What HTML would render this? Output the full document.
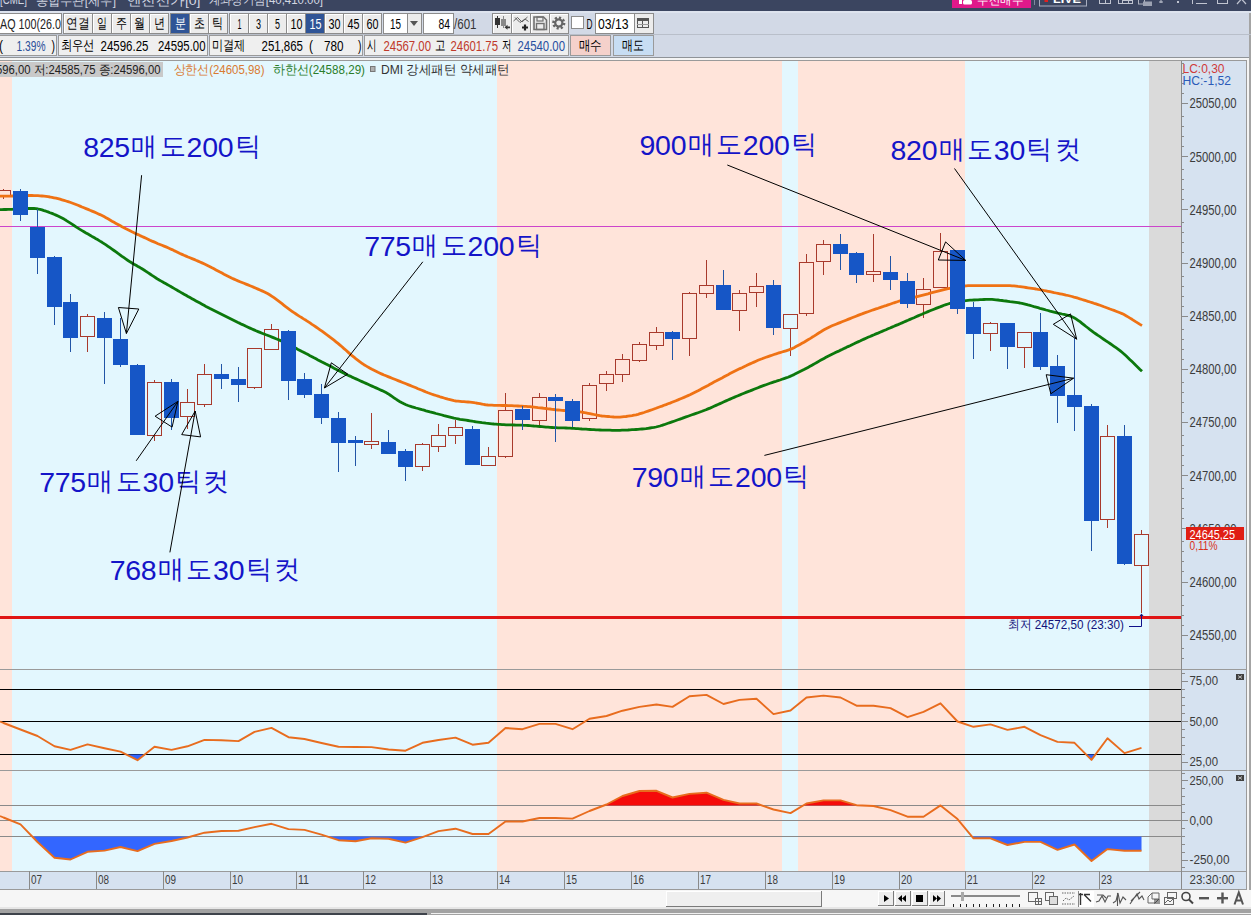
<!DOCTYPE html><html><head><meta charset="utf-8"><style>html,body{margin:0;padding:0;overflow:hidden;background:#fff} svg{display:block} text{font-family:'Liberation Sans', sans-serif}</style></head><body>
<svg width="1251" height="915" viewBox="0 0 1251 915">
<rect x="0" y="0" width="1251" height="915" fill="#d2d9e6"/>
<rect x="0" y="0" width="1251" height="11" fill="#3b4560"/>
<g shape-rendering="crispEdges">
<rect x="0" y="57" width="1249" height="1" fill="#8f9398"/>
<rect x="0" y="58" width="1249" height="2" fill="#f4f4f4"/>
<rect x="0" y="60" width="1247" height="1" fill="#9a9a9a"/>
<rect x="0" y="61" width="12" height="810" fill="#ffe4da"/>
<rect x="12" y="61" width="485" height="810" fill="#e3f7fe"/>
<rect x="497" y="61" width="285" height="810" fill="#ffe4da"/>
<rect x="782" y="61" width="16" height="810" fill="#e3f7fe"/>
<rect x="798" y="61" width="167" height="810" fill="#ffe4da"/>
<rect x="965" y="61" width="184" height="810" fill="#e3f7fe"/>
<rect x="1149" y="61" width="32" height="810" fill="#dadada"/>
<rect x="1182" y="61" width="64" height="828" fill="#d6e2f0"/>
<rect x="0" y="871" width="1182" height="18" fill="#d6e2f0"/>
<rect x="1246" y="60" width="1" height="830" fill="#9a9a9a"/>
<rect x="1247" y="58" width="2" height="832" fill="#f4f4f4"/>
<rect x="1249" y="11" width="2" height="904" fill="#a4a4a4"/>
<rect x="0" y="669" width="1246" height="1" fill="#9a9a9a"/>
<rect x="0" y="770" width="1246" height="1" fill="#9a9a9a"/>
<rect x="0" y="871" width="1246" height="1" fill="#9a9a9a"/>
<rect x="0" y="889" width="1246" height="1" fill="#9a9a9a"/>
<rect x="1181" y="61" width="1" height="828" fill="#8a8a8a"/>
<rect x="0" y="689" width="1181" height="1" fill="#000"/>
<rect x="0" y="721" width="1181" height="1" fill="#000"/>
<rect x="0" y="754" width="1181" height="1" fill="#000"/>
<rect x="0" y="805" width="1181" height="1" fill="#8a8a8a"/>
<rect x="0" y="820" width="1181" height="1" fill="#8a8a8a"/>
<rect x="0" y="836" width="1181" height="1" fill="#8a8a8a"/>
</g>
<rect x="0" y="226" width="1181" height="1" fill="#cc44cc" shape-rendering="crispEdges"/>
<g shape-rendering="crispEdges">
<rect x="3" y="189" width="1" height="1" fill="#a83a2c"/>
<rect x="3" y="195" width="1" height="4" fill="#a83a2c"/>
<rect x="-3.5" y="190.5" width="14" height="5" fill="none" stroke="#a83a2c" stroke-width="1"/>
<rect x="87" y="314" width="1" height="2" fill="#a83a2c"/>
<rect x="87" y="336" width="1" height="16" fill="#a83a2c"/>
<rect x="80.5" y="316.5" width="14" height="20" fill="none" stroke="#a83a2c" stroke-width="1"/>
<rect x="154" y="380" width="1" height="2" fill="#a83a2c"/>
<rect x="154" y="435" width="1" height="6" fill="#a83a2c"/>
<rect x="147.5" y="382.5" width="14" height="53" fill="none" stroke="#a83a2c" stroke-width="1"/>
<rect x="187" y="389" width="1" height="13" fill="#a83a2c"/>
<rect x="187" y="416" width="1" height="13" fill="#a83a2c"/>
<rect x="180.5" y="402.5" width="14" height="14" fill="none" stroke="#a83a2c" stroke-width="1"/>
<rect x="204" y="364" width="1" height="10" fill="#a83a2c"/>
<rect x="204" y="404" width="1" height="3" fill="#a83a2c"/>
<rect x="197.5" y="374.5" width="14" height="30" fill="none" stroke="#a83a2c" stroke-width="1"/>
<rect x="254" y="387" width="1" height="2" fill="#a83a2c"/>
<rect x="247.5" y="348.5" width="14" height="39" fill="none" stroke="#a83a2c" stroke-width="1"/>
<rect x="271" y="324" width="1" height="5" fill="#a83a2c"/>
<rect x="271" y="349" width="1" height="1" fill="#a83a2c"/>
<rect x="264.5" y="329.5" width="14" height="20" fill="none" stroke="#a83a2c" stroke-width="1"/>
<rect x="371" y="413" width="1" height="28" fill="#a83a2c"/>
<rect x="371" y="444" width="1" height="5" fill="#a83a2c"/>
<rect x="364.5" y="441.5" width="14" height="3" fill="none" stroke="#a83a2c" stroke-width="1"/>
<rect x="422" y="443" width="1" height="1" fill="#a83a2c"/>
<rect x="422" y="466" width="1" height="5" fill="#a83a2c"/>
<rect x="415.5" y="444.5" width="14" height="22" fill="none" stroke="#a83a2c" stroke-width="1"/>
<rect x="438" y="424" width="1" height="11" fill="#a83a2c"/>
<rect x="438" y="446" width="1" height="6" fill="#a83a2c"/>
<rect x="431.5" y="435.5" width="14" height="11" fill="none" stroke="#a83a2c" stroke-width="1"/>
<rect x="455" y="420" width="1" height="7" fill="#a83a2c"/>
<rect x="455" y="435" width="1" height="9" fill="#a83a2c"/>
<rect x="448.5" y="427.5" width="14" height="8" fill="none" stroke="#a83a2c" stroke-width="1"/>
<rect x="488" y="447" width="1" height="9" fill="#a83a2c"/>
<rect x="488" y="465" width="1" height="1" fill="#a83a2c"/>
<rect x="481.5" y="456.5" width="14" height="9" fill="none" stroke="#a83a2c" stroke-width="1"/>
<rect x="505" y="393" width="1" height="17" fill="#a83a2c"/>
<rect x="505" y="456" width="1" height="2" fill="#a83a2c"/>
<rect x="498.5" y="410.5" width="14" height="46" fill="none" stroke="#a83a2c" stroke-width="1"/>
<rect x="539" y="393" width="1" height="4" fill="#a83a2c"/>
<rect x="539" y="420" width="1" height="6" fill="#a83a2c"/>
<rect x="532.5" y="397.5" width="14" height="23" fill="none" stroke="#a83a2c" stroke-width="1"/>
<rect x="589" y="383" width="1" height="2" fill="#a83a2c"/>
<rect x="589" y="418" width="1" height="3" fill="#a83a2c"/>
<rect x="582.5" y="385.5" width="14" height="33" fill="none" stroke="#a83a2c" stroke-width="1"/>
<rect x="606" y="371" width="1" height="3" fill="#a83a2c"/>
<rect x="606" y="383" width="1" height="8" fill="#a83a2c"/>
<rect x="599.5" y="374.5" width="14" height="9" fill="none" stroke="#a83a2c" stroke-width="1"/>
<rect x="622" y="354" width="1" height="5" fill="#a83a2c"/>
<rect x="622" y="374" width="1" height="8" fill="#a83a2c"/>
<rect x="615.5" y="359.5" width="14" height="15" fill="none" stroke="#a83a2c" stroke-width="1"/>
<rect x="639" y="342" width="1" height="2" fill="#a83a2c"/>
<rect x="639" y="360" width="1" height="2" fill="#a83a2c"/>
<rect x="632.5" y="344.5" width="14" height="16" fill="none" stroke="#a83a2c" stroke-width="1"/>
<rect x="656" y="327" width="1" height="5" fill="#a83a2c"/>
<rect x="656" y="345" width="1" height="5" fill="#a83a2c"/>
<rect x="649.5" y="332.5" width="14" height="13" fill="none" stroke="#a83a2c" stroke-width="1"/>
<rect x="689" y="292" width="1" height="1" fill="#a83a2c"/>
<rect x="689" y="338" width="1" height="18" fill="#a83a2c"/>
<rect x="682.5" y="293.5" width="14" height="45" fill="none" stroke="#a83a2c" stroke-width="1"/>
<rect x="706" y="260" width="1" height="25" fill="#a83a2c"/>
<rect x="706" y="293" width="1" height="5" fill="#a83a2c"/>
<rect x="699.5" y="285.5" width="14" height="8" fill="none" stroke="#a83a2c" stroke-width="1"/>
<rect x="739" y="290" width="1" height="3" fill="#a83a2c"/>
<rect x="739" y="310" width="1" height="21" fill="#a83a2c"/>
<rect x="732.5" y="293.5" width="14" height="17" fill="none" stroke="#a83a2c" stroke-width="1"/>
<rect x="756" y="273" width="1" height="13" fill="#a83a2c"/>
<rect x="756" y="292" width="1" height="15" fill="#a83a2c"/>
<rect x="749.5" y="286.5" width="14" height="6" fill="none" stroke="#a83a2c" stroke-width="1"/>
<rect x="790" y="328" width="1" height="28" fill="#a83a2c"/>
<rect x="783.5" y="314.5" width="14" height="14" fill="none" stroke="#a83a2c" stroke-width="1"/>
<rect x="806" y="254" width="1" height="8" fill="#a83a2c"/>
<rect x="806" y="313" width="1" height="3" fill="#a83a2c"/>
<rect x="799.5" y="262.5" width="14" height="51" fill="none" stroke="#a83a2c" stroke-width="1"/>
<rect x="823" y="240" width="1" height="4" fill="#a83a2c"/>
<rect x="823" y="261" width="1" height="14" fill="#a83a2c"/>
<rect x="816.5" y="244.5" width="14" height="17" fill="none" stroke="#a83a2c" stroke-width="1"/>
<rect x="873" y="234" width="1" height="37" fill="#a83a2c"/>
<rect x="873" y="274" width="1" height="8" fill="#a83a2c"/>
<rect x="866.5" y="271.5" width="14" height="3" fill="none" stroke="#a83a2c" stroke-width="1"/>
<rect x="923" y="278" width="1" height="11" fill="#a83a2c"/>
<rect x="923" y="304" width="1" height="14" fill="#a83a2c"/>
<rect x="916.5" y="289.5" width="14" height="15" fill="none" stroke="#a83a2c" stroke-width="1"/>
<rect x="940" y="233" width="1" height="18" fill="#a83a2c"/>
<rect x="933.5" y="251.5" width="14" height="36" fill="none" stroke="#a83a2c" stroke-width="1"/>
<rect x="990" y="322" width="1" height="1" fill="#a83a2c"/>
<rect x="990" y="333" width="1" height="18" fill="#a83a2c"/>
<rect x="983.5" y="323.5" width="14" height="10" fill="none" stroke="#a83a2c" stroke-width="1"/>
<rect x="1024" y="347" width="1" height="21" fill="#a83a2c"/>
<rect x="1017.5" y="332.5" width="14" height="15" fill="none" stroke="#a83a2c" stroke-width="1"/>
<rect x="1107" y="425" width="1" height="11" fill="#a83a2c"/>
<rect x="1107" y="519" width="1" height="9" fill="#a83a2c"/>
<rect x="1100.5" y="436.5" width="14" height="83" fill="none" stroke="#a83a2c" stroke-width="1"/>
<rect x="1141" y="530" width="1" height="4" fill="#a83a2c"/>
<rect x="1141" y="565" width="1" height="48" fill="#a83a2c"/>
<rect x="1134.5" y="534.5" width="14" height="31" fill="none" stroke="#a83a2c" stroke-width="1"/>
</g>
<polyline points="0.0,196.1 2.0,196.1 4.0,196.1 6.0,196.1 8.0,196.1 10.0,196.1 12.0,196.0 14.0,196.0 16.0,195.9 18.0,195.9 20.0,195.8 22.0,195.7 24.0,195.7 26.0,195.6 28.0,195.5 30.0,195.5 32.0,195.5 34.0,195.6 36.0,195.6 38.0,195.7 40.0,195.8 42.0,196.0 44.0,196.2 46.0,196.4 48.0,196.7 50.0,197.0 52.0,197.4 54.0,197.8 56.0,198.2 58.0,198.7 60.0,199.2 62.0,199.8 64.0,200.4 66.0,201.0 68.0,201.6 70.0,202.3 72.0,203.0 74.0,203.7 76.0,204.5 78.0,205.3 80.0,206.1 82.0,207.0 84.0,207.8 86.0,208.6 88.0,209.4 90.0,210.3 92.0,211.1 94.0,211.9 96.0,212.8 98.0,213.7 100.0,214.6 102.0,215.6 104.0,216.6 106.0,217.7 108.0,218.8 110.0,220.0 112.0,221.2 114.0,222.3 116.0,223.4 118.0,224.5 120.0,225.6 122.0,226.7 124.0,227.7 126.0,228.8 128.0,229.8 130.0,230.8 132.0,231.8 134.0,232.7 136.0,233.7 138.0,234.6 140.0,235.6 142.0,236.5 144.0,237.4 146.0,238.3 148.0,239.2 150.0,240.2 152.0,241.1 154.0,241.9 156.0,242.8 158.0,243.7 160.0,244.5 162.0,245.3 164.0,246.1 166.0,246.9 168.0,247.8 170.0,248.7 172.0,249.6 174.0,250.6 176.0,251.5 178.0,252.5 180.0,253.5 182.0,254.4 184.0,255.3 186.0,256.1 188.0,257.0 190.0,257.8 192.0,258.6 194.0,259.4 196.0,260.3 198.0,261.1 200.0,262.0 202.0,262.9 204.0,263.8 206.0,264.7 208.0,265.7 210.0,266.7 212.0,267.8 214.0,268.8 216.0,269.9 218.0,271.0 220.0,272.1 222.0,273.1 224.0,274.2 226.0,275.2 228.0,276.2 230.0,277.2 232.0,278.2 234.0,279.1 236.0,280.0 238.0,280.9 240.0,281.7 242.0,282.5 244.0,283.3 246.0,284.1 248.0,284.9 250.0,285.7 252.0,286.5 254.0,287.4 256.0,288.2 258.0,289.1 260.0,290.0 262.0,290.9 264.0,291.8 266.0,292.8 268.0,293.8 270.0,295.0 272.0,296.3 274.0,297.7 276.0,299.2 278.0,300.7 280.0,302.2 282.0,303.7 284.0,305.3 286.0,306.9 288.0,308.4 290.0,309.9 292.0,311.3 294.0,312.7 296.0,314.0 298.0,315.3 300.0,316.6 302.0,317.8 304.0,319.1 306.0,320.3 308.0,321.6 310.0,322.9 312.0,324.3 314.0,325.6 316.0,327.0 318.0,328.4 320.0,329.8 322.0,331.2 324.0,332.7 326.0,334.2 328.0,335.6 330.0,337.2 332.0,338.7 334.0,340.2 336.0,341.8 338.0,343.4 340.0,345.1 342.0,346.8 344.0,348.6 346.0,350.3 348.0,352.1 350.0,353.9 352.0,355.6 354.0,357.2 356.0,358.8 358.0,360.3 360.0,361.9 362.0,363.3 364.0,364.7 366.0,365.9 368.0,367.1 370.0,368.2 372.0,369.3 374.0,370.3 376.0,371.3 378.0,372.3 380.0,373.2 382.0,374.1 384.0,375.0 386.0,375.8 388.0,376.6 390.0,377.4 392.0,378.2 394.0,379.0 396.0,379.8 398.0,380.6 400.0,381.4 402.0,382.2 404.0,383.0 406.0,383.8 408.0,384.6 410.0,385.4 412.0,386.2 414.0,387.0 416.0,387.8 418.0,388.7 420.0,389.5 422.0,390.3 424.0,391.1 426.0,392.0 428.0,392.8 430.0,393.5 432.0,394.2 434.0,394.9 436.0,395.5 438.0,396.1 440.0,396.8 442.0,397.4 444.0,398.0 446.0,398.6 448.0,399.2 450.0,399.7 452.0,400.2 454.0,400.7 456.0,401.0 458.0,401.2 460.0,401.4 462.0,401.6 464.0,401.7 466.0,401.9 468.0,402.0 470.0,402.2 472.0,402.4 474.0,402.6 476.0,403.0 478.0,403.3 480.0,403.7 482.0,404.1 484.0,404.5 486.0,404.8 488.0,405.0 490.0,405.1 492.0,405.2 494.0,405.3 496.0,405.3 498.0,405.4 500.0,405.4 502.0,405.5 504.0,405.5 506.0,405.5 508.0,405.6 510.0,405.6 512.0,405.7 514.0,405.8 516.0,405.9 518.0,406.0 520.0,406.1 522.0,406.2 524.0,406.3 526.0,406.4 528.0,406.6 530.0,406.7 532.0,406.9 534.0,407.1 536.0,407.3 538.0,407.6 540.0,407.8 542.0,408.0 544.0,408.3 546.0,408.5 548.0,408.8 550.0,409.0 552.0,409.3 554.0,409.5 556.0,409.8 558.0,410.0 560.0,410.2 562.0,410.4 564.0,410.5 566.0,410.7 568.0,410.8 570.0,410.9 572.0,411.1 574.0,411.2 576.0,411.4 578.0,411.6 580.0,411.8 582.0,412.2 584.0,412.5 586.0,412.9 588.0,413.3 590.0,413.7 592.0,414.1 594.0,414.5 596.0,414.9 598.0,415.3 600.0,415.7 602.0,416.0 604.0,416.2 606.0,416.4 608.0,416.5 610.0,416.7 612.0,416.8 614.0,417.0 616.0,417.1 618.0,417.1 620.0,417.1 622.0,416.9 624.0,416.7 626.0,416.5 628.0,416.2 630.0,415.9 632.0,415.6 634.0,415.2 636.0,414.8 638.0,414.3 640.0,413.7 642.0,413.1 644.0,412.5 646.0,411.8 648.0,411.1 650.0,410.4 652.0,409.7 654.0,409.0 656.0,408.3 658.0,407.5 660.0,406.8 662.0,406.1 664.0,405.3 666.0,404.6 668.0,403.8 670.0,403.1 672.0,402.3 674.0,401.5 676.0,400.7 678.0,399.9 680.0,399.0 682.0,398.2 684.0,397.4 686.0,396.5 688.0,395.6 690.0,394.8 692.0,393.8 694.0,392.8 696.0,391.8 698.0,390.8 700.0,389.7 702.0,388.6 704.0,387.5 706.0,386.4 708.0,385.4 710.0,384.3 712.0,383.2 714.0,382.1 716.0,381.1 718.0,380.0 720.0,378.9 722.0,377.9 724.0,376.8 726.0,375.7 728.0,374.7 730.0,373.6 732.0,372.6 734.0,371.6 736.0,370.6 738.0,369.6 740.0,368.6 742.0,367.7 744.0,366.7 746.0,365.8 748.0,364.8 750.0,363.9 752.0,363.0 754.0,362.1 756.0,361.2 758.0,360.3 760.0,359.5 762.0,358.8 764.0,358.0 766.0,357.3 768.0,356.6 770.0,355.9 772.0,355.2 774.0,354.5 776.0,353.9 778.0,353.2 780.0,352.6 782.0,352.0 784.0,351.4 786.0,350.8 788.0,350.2 790.0,349.4 792.0,348.6 794.0,347.7 796.0,346.6 798.0,345.5 800.0,344.4 802.0,343.3 804.0,342.2 806.0,341.0 808.0,339.8 810.0,338.6 812.0,337.3 814.0,336.1 816.0,334.8 818.0,333.5 820.0,332.3 822.0,331.0 824.0,329.8 826.0,328.7 828.0,327.7 830.0,326.7 832.0,325.8 834.0,325.0 836.0,324.2 838.0,323.4 840.0,322.6 842.0,321.8 844.0,321.0 846.0,320.2 848.0,319.4 850.0,318.6 852.0,317.8 854.0,317.0 856.0,316.2 858.0,315.4 860.0,314.6 862.0,313.9 864.0,313.1 866.0,312.4 868.0,311.7 870.0,311.0 872.0,310.3 874.0,309.6 876.0,308.9 878.0,308.3 880.0,307.6 882.0,306.9 884.0,306.2 886.0,305.6 888.0,304.9 890.0,304.2 892.0,303.5 894.0,302.8 896.0,302.2 898.0,301.5 900.0,300.9 902.0,300.3 904.0,299.8 906.0,299.2 908.0,298.7 910.0,298.2 912.0,297.7 914.0,297.3 916.0,296.8 918.0,296.3 920.0,295.8 922.0,295.3 924.0,294.8 926.0,294.3 928.0,293.8 930.0,293.2 932.0,292.7 934.0,292.2 936.0,291.7 938.0,291.2 940.0,290.7 942.0,290.2 944.0,289.7 946.0,289.2 948.0,288.7 950.0,288.3 952.0,287.9 954.0,287.5 956.0,287.2 958.0,286.8 960.0,286.5 962.0,286.2 964.0,286.0 966.0,285.8 968.0,285.7 970.0,285.6 972.0,285.6 974.0,285.6 976.0,285.6 978.0,285.6 980.0,285.6 982.0,285.6 984.0,285.6 986.0,285.6 988.0,285.6 990.0,285.6 992.0,285.6 994.0,285.6 996.0,285.6 998.0,285.6 1000.0,285.6 1002.0,285.6 1004.0,285.6 1006.0,285.6 1008.0,285.6 1010.0,285.7 1012.0,285.8 1014.0,285.9 1016.0,286.1 1018.0,286.4 1020.0,286.6 1022.0,286.9 1024.0,287.2 1026.0,287.5 1028.0,287.8 1030.0,288.1 1032.0,288.4 1034.0,288.7 1036.0,289.0 1038.0,289.4 1040.0,289.7 1042.0,290.1 1044.0,290.5 1046.0,290.9 1048.0,291.3 1050.0,291.7 1052.0,292.1 1054.0,292.6 1056.0,293.0 1058.0,293.4 1060.0,293.8 1062.0,294.2 1064.0,294.6 1066.0,295.1 1068.0,295.5 1070.0,296.0 1072.0,296.5 1074.0,297.1 1076.0,297.6 1078.0,298.2 1080.0,298.9 1082.0,299.5 1084.0,300.1 1086.0,300.7 1088.0,301.4 1090.0,302.0 1092.0,302.6 1094.0,303.3 1096.0,303.9 1098.0,304.6 1100.0,305.3 1102.0,306.0 1104.0,306.8 1106.0,307.5 1108.0,308.2 1110.0,309.0 1112.0,309.7 1114.0,310.4 1116.0,311.2 1118.0,312.0 1120.0,312.8 1122.0,313.6 1124.0,314.6 1126.0,315.7 1128.0,316.9 1130.0,318.1 1132.0,319.3 1134.0,320.6 1136.0,321.9 1138.0,323.1 1140.0,324.4 1142.0,325.6" fill="none" stroke="#ef7214" stroke-width="2.8" stroke-linejoin="round"/>
<polyline points="0.0,209.6 2.0,209.6 4.0,209.5 6.0,209.5 8.0,209.4 10.0,209.4 12.0,209.3 14.0,209.2 16.0,209.1 18.0,209.0 20.0,208.9 22.0,208.8 24.0,208.7 26.0,208.6 28.0,208.5 30.0,208.5 32.0,208.5 34.0,208.5 36.0,208.7 38.0,209.0 40.0,209.4 42.0,209.9 44.0,210.6 46.0,211.2 48.0,211.9 50.0,212.7 52.0,213.4 54.0,214.3 56.0,215.1 58.0,216.0 60.0,217.0 62.0,218.0 64.0,219.1 66.0,220.3 68.0,221.6 70.0,222.9 72.0,224.2 74.0,225.5 76.0,226.8 78.0,228.1 80.0,229.4 82.0,230.6 84.0,231.8 86.0,233.0 88.0,234.1 90.0,235.2 92.0,236.4 94.0,237.5 96.0,238.7 98.0,239.8 100.0,241.1 102.0,242.3 104.0,243.6 106.0,244.9 108.0,246.3 110.0,247.7 112.0,249.1 114.0,250.5 116.0,251.9 118.0,253.4 120.0,254.8 122.0,256.3 124.0,257.7 126.0,259.1 128.0,260.5 130.0,261.8 132.0,263.0 134.0,264.2 136.0,265.3 138.0,266.5 140.0,267.6 142.0,268.8 144.0,270.0 146.0,271.3 148.0,272.7 150.0,274.0 152.0,275.4 154.0,276.7 156.0,278.0 158.0,279.3 160.0,280.4 162.0,281.6 164.0,282.7 166.0,283.8 168.0,284.9 170.0,286.1 172.0,287.2 174.0,288.4 176.0,289.6 178.0,290.7 180.0,291.9 182.0,293.1 184.0,294.2 186.0,295.3 188.0,296.5 190.0,297.6 192.0,298.7 194.0,299.8 196.0,300.9 198.0,302.0 200.0,303.1 202.0,304.2 204.0,305.3 206.0,306.4 208.0,307.4 210.0,308.5 212.0,309.5 214.0,310.5 216.0,311.5 218.0,312.5 220.0,313.5 222.0,314.5 224.0,315.5 226.0,316.5 228.0,317.5 230.0,318.5 232.0,319.5 234.0,320.5 236.0,321.5 238.0,322.5 240.0,323.4 242.0,324.4 244.0,325.3 246.0,326.3 248.0,327.2 250.0,328.1 252.0,329.0 254.0,329.9 256.0,330.8 258.0,331.6 260.0,332.4 262.0,333.2 264.0,334.0 266.0,334.8 268.0,335.5 270.0,336.3 272.0,337.1 274.0,337.9 276.0,338.7 278.0,339.5 280.0,340.4 282.0,341.3 284.0,342.3 286.0,343.3 288.0,344.3 290.0,345.3 292.0,346.3 294.0,347.3 296.0,348.3 298.0,349.4 300.0,350.4 302.0,351.5 304.0,352.5 306.0,353.6 308.0,354.6 310.0,355.7 312.0,356.7 314.0,357.8 316.0,358.8 318.0,359.9 320.0,360.9 322.0,362.0 324.0,363.0 326.0,364.1 328.0,365.1 330.0,366.1 332.0,367.1 334.0,368.2 336.0,369.2 338.0,370.2 340.0,371.2 342.0,372.2 344.0,373.2 346.0,374.2 348.0,375.2 350.0,376.1 352.0,377.1 354.0,378.0 356.0,378.9 358.0,379.8 360.0,380.7 362.0,381.6 364.0,382.5 366.0,383.4 368.0,384.3 370.0,385.2 372.0,386.1 374.0,387.0 376.0,387.9 378.0,388.8 380.0,389.7 382.0,390.6 384.0,391.6 386.0,392.6 388.0,393.7 390.0,395.0 392.0,396.4 394.0,397.8 396.0,399.2 398.0,400.5 400.0,401.7 402.0,402.8 404.0,403.8 406.0,404.7 408.0,405.5 410.0,406.2 412.0,406.8 414.0,407.4 416.0,408.0 418.0,408.5 420.0,409.1 422.0,409.7 424.0,410.2 426.0,410.8 428.0,411.3 430.0,411.9 432.0,412.4 434.0,412.9 436.0,413.5 438.0,414.0 440.0,414.5 442.0,415.0 444.0,415.6 446.0,416.1 448.0,416.6 450.0,417.1 452.0,417.6 454.0,418.1 456.0,418.5 458.0,418.9 460.0,419.3 462.0,419.6 464.0,419.9 466.0,420.2 468.0,420.5 470.0,420.8 472.0,421.1 474.0,421.5 476.0,421.8 478.0,422.1 480.0,422.4 482.0,422.7 484.0,422.9 486.0,423.2 488.0,423.4 490.0,423.6 492.0,423.8 494.0,424.0 496.0,424.1 498.0,424.3 500.0,424.4 502.0,424.6 504.0,424.7 506.0,424.8 508.0,424.8 510.0,424.9 512.0,424.9 514.0,425.0 516.0,425.1 518.0,425.1 520.0,425.2 522.0,425.2 524.0,425.3 526.0,425.4 528.0,425.5 530.0,425.6 532.0,425.8 534.0,426.0 536.0,426.1 538.0,426.3 540.0,426.5 542.0,426.7 544.0,426.9 546.0,427.1 548.0,427.2 550.0,427.4 552.0,427.5 554.0,427.6 556.0,427.7 558.0,427.8 560.0,427.9 562.0,427.9 564.0,427.9 566.0,428.0 568.0,428.1 570.0,428.2 572.0,428.3 574.0,428.4 576.0,428.6 578.0,428.7 580.0,428.8 582.0,429.0 584.0,429.1 586.0,429.2 588.0,429.4 590.0,429.5 592.0,429.6 594.0,429.7 596.0,429.8 598.0,429.9 600.0,430.0 602.0,430.1 604.0,430.1 606.0,430.1 608.0,430.2 610.0,430.2 612.0,430.3 614.0,430.3 616.0,430.3 618.0,430.3 620.0,430.3 622.0,430.2 624.0,430.2 626.0,430.1 628.0,430.0 630.0,429.8 632.0,429.7 634.0,429.6 636.0,429.5 638.0,429.4 640.0,429.2 642.0,429.0 644.0,428.8 646.0,428.6 648.0,428.3 650.0,428.0 652.0,427.7 654.0,427.4 656.0,427.0 658.0,426.5 660.0,426.0 662.0,425.3 664.0,424.7 666.0,424.0 668.0,423.3 670.0,422.6 672.0,421.9 674.0,421.2 676.0,420.5 678.0,419.8 680.0,419.1 682.0,418.4 684.0,417.6 686.0,416.9 688.0,416.2 690.0,415.5 692.0,414.8 694.0,414.1 696.0,413.4 698.0,412.7 700.0,412.0 702.0,411.3 704.0,410.5 706.0,409.8 708.0,408.9 710.0,408.1 712.0,407.2 714.0,406.3 716.0,405.4 718.0,404.5 720.0,403.6 722.0,402.7 724.0,401.8 726.0,400.9 728.0,400.0 730.0,399.1 732.0,398.2 734.0,397.4 736.0,396.5 738.0,395.7 740.0,394.9 742.0,394.0 744.0,393.2 746.0,392.4 748.0,391.6 750.0,390.9 752.0,390.1 754.0,389.3 756.0,388.5 758.0,387.7 760.0,386.9 762.0,386.1 764.0,385.4 766.0,384.7 768.0,384.0 770.0,383.3 772.0,382.6 774.0,381.9 776.0,381.3 778.0,380.6 780.0,380.0 782.0,379.3 784.0,378.6 786.0,377.9 788.0,377.2 790.0,376.4 792.0,375.5 794.0,374.6 796.0,373.6 798.0,372.6 800.0,371.6 802.0,370.6 804.0,369.6 806.0,368.5 808.0,367.4 810.0,366.3 812.0,365.2 814.0,364.1 816.0,362.9 818.0,361.8 820.0,360.6 822.0,359.5 824.0,358.4 826.0,357.3 828.0,356.2 830.0,355.2 832.0,354.2 834.0,353.3 836.0,352.3 838.0,351.4 840.0,350.4 842.0,349.5 844.0,348.5 846.0,347.6 848.0,346.6 850.0,345.7 852.0,344.7 854.0,343.8 856.0,342.8 858.0,341.9 860.0,341.0 862.0,340.0 864.0,339.1 866.0,338.2 868.0,337.3 870.0,336.5 872.0,335.6 874.0,334.8 876.0,333.9 878.0,333.1 880.0,332.2 882.0,331.4 884.0,330.5 886.0,329.7 888.0,328.8 890.0,328.0 892.0,327.1 894.0,326.3 896.0,325.4 898.0,324.6 900.0,323.7 902.0,322.9 904.0,322.0 906.0,321.1 908.0,320.3 910.0,319.4 912.0,318.5 914.0,317.7 916.0,316.8 918.0,315.9 920.0,315.0 922.0,314.2 924.0,313.3 926.0,312.5 928.0,311.6 930.0,310.8 932.0,310.0 934.0,309.2 936.0,308.4 938.0,307.6 940.0,306.9 942.0,306.1 944.0,305.3 946.0,304.6 948.0,304.0 950.0,303.4 952.0,302.9 954.0,302.4 956.0,302.1 958.0,301.7 960.0,301.4 962.0,301.1 964.0,300.8 966.0,300.6 968.0,300.4 970.0,300.2 972.0,300.1 974.0,300.0 976.0,299.9 978.0,299.8 980.0,299.7 982.0,299.6 984.0,299.5 986.0,299.4 988.0,299.4 990.0,299.4 992.0,299.4 994.0,299.6 996.0,299.8 998.0,300.0 1000.0,300.3 1002.0,300.5 1004.0,300.8 1006.0,301.0 1008.0,301.3 1010.0,301.6 1012.0,301.8 1014.0,302.1 1016.0,302.4 1018.0,302.7 1020.0,303.0 1022.0,303.4 1024.0,303.8 1026.0,304.3 1028.0,304.9 1030.0,305.4 1032.0,306.0 1034.0,306.6 1036.0,307.1 1038.0,307.7 1040.0,308.3 1042.0,308.8 1044.0,309.4 1046.0,310.0 1048.0,310.5 1050.0,311.1 1052.0,311.6 1054.0,312.1 1056.0,312.6 1058.0,313.1 1060.0,313.5 1062.0,314.0 1064.0,314.4 1066.0,314.9 1068.0,315.4 1070.0,316.0 1072.0,316.8 1074.0,317.7 1076.0,318.9 1078.0,320.3 1080.0,321.7 1082.0,323.3 1084.0,324.9 1086.0,326.5 1088.0,328.0 1090.0,329.6 1092.0,331.1 1094.0,332.6 1096.0,334.0 1098.0,335.4 1100.0,336.7 1102.0,338.1 1104.0,339.5 1106.0,340.8 1108.0,342.2 1110.0,343.5 1112.0,344.9 1114.0,346.3 1116.0,347.7 1118.0,349.1 1120.0,350.6 1122.0,352.3 1124.0,354.0 1126.0,355.8 1128.0,357.7 1130.0,359.7 1132.0,361.6 1134.0,363.5 1136.0,365.5 1138.0,367.4 1140.0,369.4 1142.0,371.3" fill="none" stroke="#0c780c" stroke-width="2.8" stroke-linejoin="round"/>
<g shape-rendering="crispEdges">
<rect x="20" y="189" width="1" height="2" fill="#2255a6"/>
<rect x="20" y="215" width="1" height="6" fill="#2255a6"/>
<rect x="13" y="191" width="15" height="24" fill="#1656c6"/>
<rect x="37" y="209" width="1" height="18" fill="#2255a6"/>
<rect x="37" y="258" width="1" height="16" fill="#2255a6"/>
<rect x="30" y="227" width="15" height="31" fill="#1656c6"/>
<rect x="54" y="256" width="1" height="1" fill="#2255a6"/>
<rect x="54" y="307" width="1" height="18" fill="#2255a6"/>
<rect x="47" y="257" width="15" height="50" fill="#1656c6"/>
<rect x="70" y="294" width="1" height="8" fill="#2255a6"/>
<rect x="70" y="338" width="1" height="14" fill="#2255a6"/>
<rect x="63" y="302" width="15" height="36" fill="#1656c6"/>
<rect x="104" y="312" width="1" height="6" fill="#2255a6"/>
<rect x="104" y="338" width="1" height="46" fill="#2255a6"/>
<rect x="97" y="318" width="15" height="20" fill="#1656c6"/>
<rect x="120" y="318" width="1" height="21" fill="#2255a6"/>
<rect x="120" y="365" width="1" height="2" fill="#2255a6"/>
<rect x="113" y="339" width="15" height="26" fill="#1656c6"/>
<rect x="137" y="364" width="1" height="1" fill="#2255a6"/>
<rect x="130" y="365" width="15" height="70" fill="#1656c6"/>
<rect x="171" y="379" width="1" height="3" fill="#2255a6"/>
<rect x="171" y="418" width="1" height="12" fill="#2255a6"/>
<rect x="164" y="382" width="15" height="36" fill="#1656c6"/>
<rect x="221" y="364" width="1" height="10" fill="#2255a6"/>
<rect x="221" y="379" width="1" height="10" fill="#2255a6"/>
<rect x="214" y="374" width="15" height="5" fill="#1656c6"/>
<rect x="238" y="367" width="1" height="12" fill="#2255a6"/>
<rect x="238" y="385" width="1" height="17" fill="#2255a6"/>
<rect x="231" y="379" width="15" height="6" fill="#1656c6"/>
<rect x="288" y="330" width="1" height="1" fill="#2255a6"/>
<rect x="288" y="381" width="1" height="19" fill="#2255a6"/>
<rect x="281" y="331" width="15" height="50" fill="#1656c6"/>
<rect x="304" y="373" width="1" height="6" fill="#2255a6"/>
<rect x="304" y="395" width="1" height="3" fill="#2255a6"/>
<rect x="297" y="379" width="15" height="16" fill="#1656c6"/>
<rect x="321" y="384" width="1" height="10" fill="#2255a6"/>
<rect x="321" y="418" width="1" height="6" fill="#2255a6"/>
<rect x="314" y="394" width="15" height="24" fill="#1656c6"/>
<rect x="338" y="412" width="1" height="6" fill="#2255a6"/>
<rect x="338" y="443" width="1" height="29" fill="#2255a6"/>
<rect x="331" y="418" width="15" height="25" fill="#1656c6"/>
<rect x="355" y="436" width="1" height="4" fill="#2255a6"/>
<rect x="355" y="443" width="1" height="23" fill="#2255a6"/>
<rect x="348" y="440" width="15" height="3" fill="#1656c6"/>
<rect x="388" y="430" width="1" height="12" fill="#2255a6"/>
<rect x="381" y="442" width="15" height="12" fill="#1656c6"/>
<rect x="405" y="449" width="1" height="2" fill="#2255a6"/>
<rect x="405" y="467" width="1" height="14" fill="#2255a6"/>
<rect x="398" y="451" width="15" height="16" fill="#1656c6"/>
<rect x="472" y="426" width="1" height="3" fill="#2255a6"/>
<rect x="465" y="429" width="15" height="36" fill="#1656c6"/>
<rect x="522" y="406" width="1" height="3" fill="#2255a6"/>
<rect x="522" y="420" width="1" height="10" fill="#2255a6"/>
<rect x="515" y="409" width="15" height="11" fill="#1656c6"/>
<rect x="555" y="394" width="1" height="3" fill="#2255a6"/>
<rect x="555" y="401" width="1" height="41" fill="#2255a6"/>
<rect x="548" y="397" width="15" height="4" fill="#1656c6"/>
<rect x="572" y="399" width="1" height="2" fill="#2255a6"/>
<rect x="572" y="421" width="1" height="6" fill="#2255a6"/>
<rect x="565" y="401" width="15" height="20" fill="#1656c6"/>
<rect x="672" y="331" width="1" height="1" fill="#2255a6"/>
<rect x="672" y="339" width="1" height="21" fill="#2255a6"/>
<rect x="665" y="332" width="15" height="7" fill="#1656c6"/>
<rect x="723" y="270" width="1" height="15" fill="#2255a6"/>
<rect x="716" y="285" width="15" height="25" fill="#1656c6"/>
<rect x="773" y="280" width="1" height="5" fill="#2255a6"/>
<rect x="773" y="328" width="1" height="7" fill="#2255a6"/>
<rect x="766" y="285" width="15" height="43" fill="#1656c6"/>
<rect x="840" y="234" width="1" height="10" fill="#2255a6"/>
<rect x="840" y="254" width="1" height="16" fill="#2255a6"/>
<rect x="833" y="244" width="15" height="10" fill="#1656c6"/>
<rect x="856" y="252" width="1" height="1" fill="#2255a6"/>
<rect x="856" y="275" width="1" height="8" fill="#2255a6"/>
<rect x="849" y="253" width="15" height="22" fill="#1656c6"/>
<rect x="890" y="256" width="1" height="16" fill="#2255a6"/>
<rect x="890" y="280" width="1" height="10" fill="#2255a6"/>
<rect x="883" y="272" width="15" height="8" fill="#1656c6"/>
<rect x="907" y="273" width="1" height="8" fill="#2255a6"/>
<rect x="907" y="304" width="1" height="4" fill="#2255a6"/>
<rect x="900" y="281" width="15" height="23" fill="#1656c6"/>
<rect x="957" y="309" width="1" height="5" fill="#2255a6"/>
<rect x="950" y="250" width="15" height="59" fill="#1656c6"/>
<rect x="973" y="302" width="1" height="5" fill="#2255a6"/>
<rect x="973" y="334" width="1" height="25" fill="#2255a6"/>
<rect x="966" y="307" width="15" height="27" fill="#1656c6"/>
<rect x="1007" y="347" width="1" height="22" fill="#2255a6"/>
<rect x="1000" y="323" width="15" height="24" fill="#1656c6"/>
<rect x="1040" y="313" width="1" height="19" fill="#2255a6"/>
<rect x="1040" y="367" width="1" height="3" fill="#2255a6"/>
<rect x="1033" y="332" width="15" height="35" fill="#1656c6"/>
<rect x="1057" y="355" width="1" height="11" fill="#2255a6"/>
<rect x="1057" y="396" width="1" height="27" fill="#2255a6"/>
<rect x="1050" y="366" width="15" height="30" fill="#1656c6"/>
<rect x="1074" y="338" width="1" height="57" fill="#2255a6"/>
<rect x="1074" y="407" width="1" height="24" fill="#2255a6"/>
<rect x="1067" y="395" width="15" height="12" fill="#1656c6"/>
<rect x="1091" y="404" width="1" height="2" fill="#2255a6"/>
<rect x="1091" y="521" width="1" height="30" fill="#2255a6"/>
<rect x="1084" y="406" width="15" height="115" fill="#1656c6"/>
<rect x="1124" y="425" width="1" height="11" fill="#2255a6"/>
<rect x="1124" y="564" width="1" height="1" fill="#2255a6"/>
<rect x="1117" y="436" width="15" height="128" fill="#1656c6"/>
</g>
<rect x="0" y="616" width="1181" height="3" fill="#e01414" shape-rendering="crispEdges"/>
<polygon points="126.2,754.5 137.5,760.2 144.7,754.5" fill="#3366ff"/>
<polygon points="1086.1,754.5 1091.5,759.9 1095.5,754.5" fill="#3366ff"/>
<polygon points="32.2,836.5 37.5,842.0 54.5,857.8 70.5,859.5 87.5,851.8 104.5,850.6 120.5,847.0 137.5,851.1 154.5,843.9 171.5,841.0 187.5,837.5 191.0,836.5" fill="#3366ff"/>
<polygon points="327.1,836.5 338.5,840.2 355.5,841.2 371.5,838.3 388.5,838.8 405.5,842.6 422.5,837.1 424.1,836.5" fill="#3366ff"/>
<polygon points="972.0,836.5 973.5,838.3 990.5,838.3 1007.5,845.0 1024.5,841.9 1040.5,841.9 1057.5,849.8 1074.5,844.5 1091.5,861.0 1107.5,849.1 1124.5,850.7 1141.5,850.7 1141.5,836.5" fill="#3366ff"/>
<polygon points="603.9,805.5 606.5,804.5 622.5,796.0 639.5,791.0 656.5,790.8 672.5,797.5 689.5,793.9 706.5,792.7 723.5,799.9 739.5,803.5 756.5,803.5 762.2,805.5" fill="#f50a0a"/>
<polygon points="803.2,805.5 806.5,803.5 823.5,800.4 840.5,800.4 856.5,805.2 862.9,805.5" fill="#f50a0a"/>
<polygon points="940.3,805.5 940.5,805.4 940.6,805.5" fill="#f50a0a"/>
<polyline points="0.0,721.5 3.5,723.0 20.5,729.5 37.5,736.0 54.5,746.3 70.5,749.9 87.5,744.4 104.5,748.2 120.5,751.6 137.5,760.2 154.5,746.8 171.5,749.9 187.5,746.3 204.5,739.9 221.5,740.3 238.5,741.1 254.5,731.9 271.5,727.9 288.5,737.2 304.5,739.0 321.5,743.0 338.5,746.7 355.5,747.0 371.5,747.1 388.5,749.5 405.5,750.7 422.5,742.8 438.5,740.0 455.5,737.6 472.5,744.7 488.5,742.8 505.5,728.0 522.5,729.2 539.5,723.9 555.5,723.9 572.5,729.2 589.5,718.8 606.5,716.0 622.5,710.7 639.5,706.9 656.5,704.5 672.5,706.9 689.5,696.3 706.5,694.9 723.5,704.0 739.5,699.9 756.5,698.7 773.5,714.1 790.5,710.5 806.5,697.5 823.5,695.6 840.5,697.5 856.5,705.7 873.5,705.7 890.5,708.1 907.5,717.2 923.5,711.9 940.5,703.3 957.5,721.5 973.5,726.8 990.5,724.4 1007.5,729.9 1024.5,726.8 1040.5,735.2 1057.5,741.9 1074.5,742.8 1091.5,759.9 1107.5,738.3 1124.5,753.1 1141.5,747.9" fill="none" stroke="#e86c1e" stroke-width="1.9" stroke-linejoin="round"/>
<polyline points="0.0,816.0 3.5,817.5 20.5,824.3 37.5,842.0 54.5,857.8 70.5,859.5 87.5,851.8 104.5,850.6 120.5,847.0 137.5,851.1 154.5,843.9 171.5,841.0 187.5,837.5 204.5,832.7 221.5,831.0 238.5,830.7 254.5,827.1 271.5,823.8 288.5,829.1 304.5,829.9 321.5,834.7 338.5,840.2 355.5,841.2 371.5,838.3 388.5,838.8 405.5,842.6 422.5,837.1 438.5,831.1 455.5,828.7 472.5,834.0 488.5,834.0 505.5,821.5 522.5,821.5 539.5,818.0 555.5,818.0 572.5,818.6 589.5,811.0 606.5,804.5 622.5,796.0 639.5,791.0 656.5,790.8 672.5,797.5 689.5,793.9 706.5,792.7 723.5,799.9 739.5,803.5 756.5,803.5 773.5,809.5 790.5,813.1 806.5,803.5 823.5,800.4 840.5,800.4 856.5,805.2 873.5,806.0 890.5,810.2 907.5,816.7 923.5,816.7 940.5,805.4 957.5,819.1 973.5,838.3 990.5,838.3 1007.5,845.0 1024.5,841.9 1040.5,841.9 1057.5,849.8 1074.5,844.5 1091.5,861.0 1107.5,849.1 1124.5,850.7 1141.5,850.7" fill="none" stroke="#e86c1e" stroke-width="1.9" stroke-linejoin="round"/>
<g fill="#1414c8" text-anchor="middle">
<text x="91.10" y="157.4" font-size="28.5">8</text>
<text x="106.70" y="157.4" font-size="28.5">2</text>
<text x="122.30" y="157.4" font-size="28.5">5</text>
<text x="144.25" y="155.2" font-size="25.5">매</text>
<text x="172.55" y="155.2" font-size="25.5">도</text>
<text x="194.50" y="157.4" font-size="28.5">2</text>
<text x="210.10" y="157.4" font-size="28.5">0</text>
<text x="225.70" y="157.4" font-size="28.5">0</text>
<text x="247.65" y="155.2" font-size="25.5">틱</text>
</g>
<g fill="#1414c8" text-anchor="middle">
<text x="372.10" y="255.9" font-size="28.5">7</text>
<text x="387.70" y="255.9" font-size="28.5">7</text>
<text x="403.30" y="255.9" font-size="28.5">5</text>
<text x="425.25" y="253.7" font-size="25.5">매</text>
<text x="453.55" y="253.7" font-size="25.5">도</text>
<text x="475.50" y="255.9" font-size="28.5">2</text>
<text x="491.10" y="255.9" font-size="28.5">0</text>
<text x="506.70" y="255.9" font-size="28.5">0</text>
<text x="528.65" y="253.7" font-size="25.5">틱</text>
</g>
<g fill="#1414c8" text-anchor="middle">
<text x="647.40" y="155.20000000000002" font-size="28.5">9</text>
<text x="663.00" y="155.20000000000002" font-size="28.5">0</text>
<text x="678.60" y="155.20000000000002" font-size="28.5">0</text>
<text x="700.55" y="153.0" font-size="25.5">매</text>
<text x="728.85" y="153.0" font-size="25.5">도</text>
<text x="750.80" y="155.20000000000002" font-size="28.5">2</text>
<text x="766.40" y="155.20000000000002" font-size="28.5">0</text>
<text x="782.00" y="155.20000000000002" font-size="28.5">0</text>
<text x="803.95" y="153.0" font-size="25.5">틱</text>
</g>
<g fill="#1414c8" text-anchor="middle">
<text x="898.40" y="160.0" font-size="28.5">8</text>
<text x="914.00" y="160.0" font-size="28.5">2</text>
<text x="929.60" y="160.0" font-size="28.5">0</text>
<text x="951.55" y="157.79999999999998" font-size="25.5">매</text>
<text x="979.85" y="157.79999999999998" font-size="25.5">도</text>
<text x="1001.80" y="160.0" font-size="28.5">3</text>
<text x="1017.40" y="160.0" font-size="28.5">0</text>
<text x="1039.35" y="157.79999999999998" font-size="25.5">틱</text>
<text x="1067.65" y="157.79999999999998" font-size="25.5">컷</text>
</g>
<g fill="#1414c8" text-anchor="middle">
<text x="47.10" y="491.9" font-size="28.5">7</text>
<text x="62.70" y="491.9" font-size="28.5">7</text>
<text x="78.30" y="491.9" font-size="28.5">5</text>
<text x="100.25" y="489.7" font-size="25.5">매</text>
<text x="128.55" y="489.7" font-size="25.5">도</text>
<text x="150.50" y="491.9" font-size="28.5">3</text>
<text x="166.10" y="491.9" font-size="28.5">0</text>
<text x="188.05" y="489.7" font-size="25.5">틱</text>
<text x="216.35" y="489.7" font-size="25.5">컷</text>
</g>
<g fill="#1414c8" text-anchor="middle">
<text x="117.60" y="579.8" font-size="28.5">7</text>
<text x="133.20" y="579.8" font-size="28.5">6</text>
<text x="148.80" y="579.8" font-size="28.5">8</text>
<text x="170.75" y="577.6" font-size="25.5">매</text>
<text x="199.05" y="577.6" font-size="25.5">도</text>
<text x="221.00" y="579.8" font-size="28.5">3</text>
<text x="236.60" y="579.8" font-size="28.5">0</text>
<text x="258.55" y="577.6" font-size="25.5">틱</text>
<text x="286.85" y="577.6" font-size="25.5">컷</text>
</g>
<g fill="#1414c8" text-anchor="middle">
<text x="639.60" y="487.2" font-size="28.5">7</text>
<text x="655.20" y="487.2" font-size="28.5">9</text>
<text x="670.80" y="487.2" font-size="28.5">0</text>
<text x="692.75" y="485.0" font-size="25.5">매</text>
<text x="721.05" y="485.0" font-size="25.5">도</text>
<text x="743.00" y="487.2" font-size="28.5">2</text>
<text x="758.60" y="487.2" font-size="28.5">0</text>
<text x="774.20" y="487.2" font-size="28.5">0</text>
<text x="796.15" y="485.0" font-size="25.5">틱</text>
</g>
<line x1="141.6" y1="175.2" x2="126.4" y2="333.5" stroke="#000" stroke-width="1"/>
<polygon points="126.4,333.5 118.4,307.5 138.8,309.0" fill="none" stroke="#000" stroke-width="1"/>
<line x1="422.8" y1="261.8" x2="324.4" y2="388" stroke="#000" stroke-width="1"/>
<polygon points="324.4,388.0 331.3,362.8 347.7,374.1" fill="none" stroke="#000" stroke-width="1"/>
<line x1="727.3" y1="165" x2="965.7" y2="260.4" stroke="#000" stroke-width="1"/>
<polygon points="965.7,260.4 945.6,241.9 938.3,260.0" fill="none" stroke="#000" stroke-width="1"/>
<line x1="954.5" y1="168.5" x2="1076.7" y2="339.2" stroke="#000" stroke-width="1"/>
<polygon points="1076.7,339.2 1053.3,324.3 1070.5,313.9" fill="none" stroke="#000" stroke-width="1"/>
<line x1="136.2" y1="460.8" x2="177.9" y2="401.4" stroke="#000" stroke-width="1"/>
<polygon points="177.9,401.4 155.1,416.2 172.1,427.1" fill="none" stroke="#000" stroke-width="1"/>
<line x1="169.9" y1="552.4" x2="195.2" y2="411" stroke="#000" stroke-width="1"/>
<polygon points="195.2,411.0 181.7,434.6 200.6,436.9" fill="none" stroke="#000" stroke-width="1"/>
<line x1="764.4" y1="455.4" x2="1073.6" y2="378.2" stroke="#000" stroke-width="1"/>
<polygon points="1073.6,378.2 1046.2,374.7 1050.8,393.8" fill="none" stroke="#000" stroke-width="1"/>
<text x="1008" y="628.5" font-size="13" fill="#12127a" textLength="116" lengthAdjust="spacingAndGlyphs" text-anchor="start" >최저 24572,50 (23:30)</text>
<path d="M1139.5 616 L1141.5 613.5 L1143.5 616 Z" fill="#12127a"/>
<polyline points="1129,626.5 1141.5,626.5 1141.5,616" fill="none" stroke="#10108a" stroke-width="1"/>
<g shape-rendering="crispEdges">
<rect x="1182" y="63" width="2" height="1" fill="#8a8a8a"/>
<rect x="1182" y="73" width="2" height="1" fill="#8a8a8a"/>
<rect x="1182" y="83" width="2" height="1" fill="#8a8a8a"/>
<rect x="1182" y="93" width="2" height="1" fill="#8a8a8a"/>
<rect x="1182" y="103" width="6" height="1" fill="#8a8a8a"/>
<rect x="1182" y="116" width="2" height="1" fill="#8a8a8a"/>
<rect x="1182" y="126" width="2" height="1" fill="#8a8a8a"/>
<rect x="1182" y="136" width="2" height="1" fill="#8a8a8a"/>
<rect x="1182" y="146" width="2" height="1" fill="#8a8a8a"/>
<rect x="1182" y="156" width="6" height="1" fill="#8a8a8a"/>
<rect x="1182" y="169" width="2" height="1" fill="#8a8a8a"/>
<rect x="1182" y="179" width="2" height="1" fill="#8a8a8a"/>
<rect x="1182" y="189" width="2" height="1" fill="#8a8a8a"/>
<rect x="1182" y="199" width="2" height="1" fill="#8a8a8a"/>
<rect x="1182" y="209" width="6" height="1" fill="#8a8a8a"/>
<rect x="1182" y="222" width="2" height="1" fill="#8a8a8a"/>
<rect x="1182" y="232" width="2" height="1" fill="#8a8a8a"/>
<rect x="1182" y="242" width="2" height="1" fill="#8a8a8a"/>
<rect x="1182" y="252" width="2" height="1" fill="#8a8a8a"/>
<rect x="1182" y="263" width="6" height="1" fill="#8a8a8a"/>
<rect x="1182" y="276" width="2" height="1" fill="#8a8a8a"/>
<rect x="1182" y="286" width="2" height="1" fill="#8a8a8a"/>
<rect x="1182" y="296" width="2" height="1" fill="#8a8a8a"/>
<rect x="1182" y="306" width="2" height="1" fill="#8a8a8a"/>
<rect x="1182" y="316" width="6" height="1" fill="#8a8a8a"/>
<rect x="1182" y="329" width="2" height="1" fill="#8a8a8a"/>
<rect x="1182" y="339" width="2" height="1" fill="#8a8a8a"/>
<rect x="1182" y="349" width="2" height="1" fill="#8a8a8a"/>
<rect x="1182" y="359" width="2" height="1" fill="#8a8a8a"/>
<rect x="1182" y="369" width="6" height="1" fill="#8a8a8a"/>
<rect x="1182" y="382" width="2" height="1" fill="#8a8a8a"/>
<rect x="1182" y="392" width="2" height="1" fill="#8a8a8a"/>
<rect x="1182" y="402" width="2" height="1" fill="#8a8a8a"/>
<rect x="1182" y="412" width="2" height="1" fill="#8a8a8a"/>
<rect x="1182" y="422" width="6" height="1" fill="#8a8a8a"/>
<rect x="1182" y="435" width="2" height="1" fill="#8a8a8a"/>
<rect x="1182" y="445" width="2" height="1" fill="#8a8a8a"/>
<rect x="1182" y="455" width="2" height="1" fill="#8a8a8a"/>
<rect x="1182" y="465" width="2" height="1" fill="#8a8a8a"/>
<rect x="1182" y="475" width="6" height="1" fill="#8a8a8a"/>
<rect x="1182" y="488" width="2" height="1" fill="#8a8a8a"/>
<rect x="1182" y="498" width="2" height="1" fill="#8a8a8a"/>
<rect x="1182" y="508" width="2" height="1" fill="#8a8a8a"/>
<rect x="1182" y="518" width="2" height="1" fill="#8a8a8a"/>
<rect x="1182" y="528" width="6" height="1" fill="#8a8a8a"/>
<rect x="1182" y="541" width="2" height="1" fill="#8a8a8a"/>
<rect x="1182" y="551" width="2" height="1" fill="#8a8a8a"/>
<rect x="1182" y="561" width="2" height="1" fill="#8a8a8a"/>
<rect x="1182" y="571" width="2" height="1" fill="#8a8a8a"/>
<rect x="1182" y="582" width="6" height="1" fill="#8a8a8a"/>
<rect x="1182" y="595" width="2" height="1" fill="#8a8a8a"/>
<rect x="1182" y="605" width="2" height="1" fill="#8a8a8a"/>
<rect x="1182" y="615" width="2" height="1" fill="#8a8a8a"/>
<rect x="1182" y="625" width="2" height="1" fill="#8a8a8a"/>
<rect x="1182" y="635" width="6" height="1" fill="#8a8a8a"/>
<rect x="1182" y="648" width="2" height="1" fill="#8a8a8a"/>
<rect x="1182" y="658" width="2" height="1" fill="#8a8a8a"/>
</g>
<text x="1189.5" y="108.4" font-size="14.5" fill="#3c3c3c" textLength="47" lengthAdjust="spacingAndGlyphs" text-anchor="start" >25050,00</text>
<text x="1189.5" y="161.57" font-size="14.5" fill="#3c3c3c" textLength="47" lengthAdjust="spacingAndGlyphs" text-anchor="start" >25000,00</text>
<text x="1189.5" y="214.74" font-size="14.5" fill="#3c3c3c" textLength="47" lengthAdjust="spacingAndGlyphs" text-anchor="start" >24950,00</text>
<text x="1189.5" y="267.90999999999997" font-size="14.5" fill="#3c3c3c" textLength="47" lengthAdjust="spacingAndGlyphs" text-anchor="start" >24900,00</text>
<text x="1189.5" y="321.08" font-size="14.5" fill="#3c3c3c" textLength="47" lengthAdjust="spacingAndGlyphs" text-anchor="start" >24850,00</text>
<text x="1189.5" y="374.25" font-size="14.5" fill="#3c3c3c" textLength="47" lengthAdjust="spacingAndGlyphs" text-anchor="start" >24800,00</text>
<text x="1189.5" y="427.41999999999996" font-size="14.5" fill="#3c3c3c" textLength="47" lengthAdjust="spacingAndGlyphs" text-anchor="start" >24750,00</text>
<text x="1189.5" y="480.5899999999999" font-size="14.5" fill="#3c3c3c" textLength="47" lengthAdjust="spacingAndGlyphs" text-anchor="start" >24700,00</text>
<text x="1189.5" y="533.76" font-size="14.5" fill="#3c3c3c" textLength="47" lengthAdjust="spacingAndGlyphs" text-anchor="start" >24650,00</text>
<text x="1189.5" y="586.93" font-size="14.5" fill="#3c3c3c" textLength="47" lengthAdjust="spacingAndGlyphs" text-anchor="start" >24600,00</text>
<text x="1189.5" y="640.0999999999999" font-size="14.5" fill="#3c3c3c" textLength="47" lengthAdjust="spacingAndGlyphs" text-anchor="start" >24550,00</text>
<rect x="1186" y="527" width="58" height="13" fill="#e01e14"/>
<text x="1189.5" y="538.5" font-size="12.5" fill="#ffffff" textLength="45.5" lengthAdjust="spacingAndGlyphs" text-anchor="start" >24645,25</text>
<text x="1189.5" y="550" font-size="12.5" fill="#d83020" textLength="28" lengthAdjust="spacingAndGlyphs" text-anchor="start" >0,11%</text>
<text x="1182.5" y="73" font-size="13.5" fill="#d03a3a" textLength="42" lengthAdjust="spacingAndGlyphs" text-anchor="start" >LC:0,30</text>
<text x="1182.5" y="84.8" font-size="13.5" fill="#2a5ab8" textLength="48.5" lengthAdjust="spacingAndGlyphs" text-anchor="start" >HC:-1,52</text>
<g shape-rendering="crispEdges">
<rect x="1182" y="673" width="3" height="1" fill="#8a8a8a"/>
<rect x="1182" y="681" width="6" height="1" fill="#8a8a8a"/>
<rect x="1182" y="689" width="3" height="1" fill="#8a8a8a"/>
<rect x="1182" y="697" width="3" height="1" fill="#8a8a8a"/>
<rect x="1182" y="705" width="3" height="1" fill="#8a8a8a"/>
<rect x="1182" y="713" width="3" height="1" fill="#8a8a8a"/>
<rect x="1182" y="721" width="6" height="1" fill="#8a8a8a"/>
<rect x="1182" y="729" width="3" height="1" fill="#8a8a8a"/>
<rect x="1182" y="737" width="3" height="1" fill="#8a8a8a"/>
<rect x="1182" y="745" width="3" height="1" fill="#8a8a8a"/>
<rect x="1182" y="754" width="3" height="1" fill="#8a8a8a"/>
<rect x="1182" y="762" width="6" height="1" fill="#8a8a8a"/>
<rect x="1182" y="773" width="3" height="1" fill="#8a8a8a"/>
<rect x="1182" y="780" width="6" height="1" fill="#8a8a8a"/>
<rect x="1182" y="788" width="3" height="1" fill="#8a8a8a"/>
<rect x="1182" y="796" width="3" height="1" fill="#8a8a8a"/>
<rect x="1182" y="804" width="3" height="1" fill="#8a8a8a"/>
<rect x="1182" y="812" width="3" height="1" fill="#8a8a8a"/>
<rect x="1182" y="820" width="6" height="1" fill="#8a8a8a"/>
<rect x="1182" y="828" width="3" height="1" fill="#8a8a8a"/>
<rect x="1182" y="836" width="3" height="1" fill="#8a8a8a"/>
<rect x="1182" y="844" width="3" height="1" fill="#8a8a8a"/>
<rect x="1182" y="852" width="3" height="1" fill="#8a8a8a"/>
<rect x="1182" y="860" width="6" height="1" fill="#8a8a8a"/>
<rect x="1182" y="867" width="3" height="1" fill="#8a8a8a"/>
</g>
<text x="1189.5" y="685.4749999999999" font-size="12.5" fill="#3c3c3c" textLength="28.5" lengthAdjust="spacingAndGlyphs" text-anchor="start" >75,00</text>
<text x="1189.5" y="725.8" font-size="12.5" fill="#3c3c3c" textLength="28.5" lengthAdjust="spacingAndGlyphs" text-anchor="start" >50,00</text>
<text x="1189.5" y="766.125" font-size="12.5" fill="#3c3c3c" textLength="28.5" lengthAdjust="spacingAndGlyphs" text-anchor="start" >25,00</text>
<text x="1189.5" y="785.0" font-size="12.5" fill="#3c3c3c" textLength="34" lengthAdjust="spacingAndGlyphs" text-anchor="start" >250,00</text>
<text x="1189.5" y="824.5" font-size="12.5" fill="#3c3c3c" textLength="23" lengthAdjust="spacingAndGlyphs" text-anchor="start" >0,00</text>
<text x="1189.5" y="864.0" font-size="12.5" fill="#3c3c3c" textLength="40" lengthAdjust="spacingAndGlyphs" text-anchor="start" >-250,00</text>
<rect x="1236" y="674" width="8" height="6" fill="#404040"/>
<path d="M1238 675.5 L1242 678.5 M1242 675.5 L1238 678.5" stroke="#ddd" stroke-width="0.8"/>
<rect x="1236" y="775" width="8" height="6" fill="#404040"/>
<path d="M1238 776.5 L1242 779.5 M1242 776.5 L1238 779.5" stroke="#ddd" stroke-width="0.8"/>
<g shape-rendering="crispEdges">
<rect x="29" y="871" width="1" height="18" fill="#8a8a8a"/>
<rect x="96" y="871" width="1" height="18" fill="#8a8a8a"/>
<rect x="163" y="871" width="1" height="18" fill="#8a8a8a"/>
<rect x="230" y="871" width="1" height="18" fill="#8a8a8a"/>
<rect x="296" y="871" width="1" height="18" fill="#8a8a8a"/>
<rect x="363" y="871" width="1" height="18" fill="#8a8a8a"/>
<rect x="430" y="871" width="1" height="18" fill="#8a8a8a"/>
<rect x="497" y="871" width="1" height="18" fill="#8a8a8a"/>
<rect x="564" y="871" width="1" height="18" fill="#8a8a8a"/>
<rect x="631" y="871" width="1" height="18" fill="#8a8a8a"/>
<rect x="698" y="871" width="1" height="18" fill="#8a8a8a"/>
<rect x="765" y="871" width="1" height="18" fill="#8a8a8a"/>
<rect x="832" y="871" width="1" height="18" fill="#8a8a8a"/>
<rect x="899" y="871" width="1" height="18" fill="#8a8a8a"/>
<rect x="965" y="871" width="1" height="18" fill="#8a8a8a"/>
<rect x="1032" y="871" width="1" height="18" fill="#8a8a8a"/>
<rect x="1099" y="871" width="1" height="18" fill="#8a8a8a"/>
</g>
<text x="31" y="884" font-size="12.5" fill="#3c3c3c" textLength="11" lengthAdjust="spacingAndGlyphs" text-anchor="start" >07</text>
<text x="98" y="884" font-size="12.5" fill="#3c3c3c" textLength="11" lengthAdjust="spacingAndGlyphs" text-anchor="start" >08</text>
<text x="165" y="884" font-size="12.5" fill="#3c3c3c" textLength="11" lengthAdjust="spacingAndGlyphs" text-anchor="start" >09</text>
<text x="232" y="884" font-size="12.5" fill="#3c3c3c" textLength="11" lengthAdjust="spacingAndGlyphs" text-anchor="start" >10</text>
<text x="298" y="884" font-size="12.5" fill="#3c3c3c" textLength="11" lengthAdjust="spacingAndGlyphs" text-anchor="start" >11</text>
<text x="365" y="884" font-size="12.5" fill="#3c3c3c" textLength="11" lengthAdjust="spacingAndGlyphs" text-anchor="start" >12</text>
<text x="432" y="884" font-size="12.5" fill="#3c3c3c" textLength="11" lengthAdjust="spacingAndGlyphs" text-anchor="start" >13</text>
<text x="499" y="884" font-size="12.5" fill="#3c3c3c" textLength="11" lengthAdjust="spacingAndGlyphs" text-anchor="start" >14</text>
<text x="566" y="884" font-size="12.5" fill="#3c3c3c" textLength="11" lengthAdjust="spacingAndGlyphs" text-anchor="start" >15</text>
<text x="633" y="884" font-size="12.5" fill="#3c3c3c" textLength="11" lengthAdjust="spacingAndGlyphs" text-anchor="start" >16</text>
<text x="700" y="884" font-size="12.5" fill="#3c3c3c" textLength="11" lengthAdjust="spacingAndGlyphs" text-anchor="start" >17</text>
<text x="767" y="884" font-size="12.5" fill="#3c3c3c" textLength="11" lengthAdjust="spacingAndGlyphs" text-anchor="start" >18</text>
<text x="834" y="884" font-size="12.5" fill="#3c3c3c" textLength="11" lengthAdjust="spacingAndGlyphs" text-anchor="start" >19</text>
<text x="901" y="884" font-size="12.5" fill="#3c3c3c" textLength="11" lengthAdjust="spacingAndGlyphs" text-anchor="start" >20</text>
<text x="967" y="884" font-size="12.5" fill="#3c3c3c" textLength="11" lengthAdjust="spacingAndGlyphs" text-anchor="start" >21</text>
<text x="1034" y="884" font-size="12.5" fill="#3c3c3c" textLength="11" lengthAdjust="spacingAndGlyphs" text-anchor="start" >22</text>
<text x="1101" y="884" font-size="12.5" fill="#3c3c3c" textLength="11" lengthAdjust="spacingAndGlyphs" text-anchor="start" >23</text>
<text x="1189.5" y="884" font-size="12.5" fill="#3c3c3c" textLength="45" lengthAdjust="spacingAndGlyphs" text-anchor="start" >23:30:00</text>
<g shape-rendering="crispEdges">
<rect x="0" y="11" width="1251" height="2" fill="#dde3ee"/>
<rect x="0" y="34" width="1251" height="1" fill="#b9bfca"/>
<rect x="-1" y="13" width="62" height="20" fill="#ffffff" stroke="#8c8c8c" stroke-width="1" transform="translate(0.5,0.5)"/>
<rect x="63" y="13" width="106" height="21" fill="#8c8c8c"/>
<rect x="64" y="14" width="28" height="19" fill="#ececec"/>
<rect x="64" y="14" width="28" height="1" fill="#ffffff"/>
<rect x="64" y="14" width="1" height="19" fill="#ffffff"/>
<rect x="93" y="14" width="18" height="19" fill="#ececec"/>
<rect x="93" y="14" width="18" height="1" fill="#ffffff"/>
<rect x="93" y="14" width="1" height="19" fill="#ffffff"/>
<rect x="112" y="14" width="18" height="19" fill="#ececec"/>
<rect x="112" y="14" width="18" height="1" fill="#ffffff"/>
<rect x="112" y="14" width="1" height="19" fill="#ffffff"/>
<rect x="131" y="14" width="18" height="19" fill="#ececec"/>
<rect x="131" y="14" width="18" height="1" fill="#ffffff"/>
<rect x="131" y="14" width="1" height="19" fill="#ffffff"/>
<rect x="150" y="14" width="18" height="19" fill="#ececec"/>
<rect x="150" y="14" width="18" height="1" fill="#ffffff"/>
<rect x="150" y="14" width="1" height="19" fill="#ffffff"/>
<rect x="170" y="13" width="58" height="21" fill="#8c8c8c"/>
<rect x="171" y="14" width="18" height="19" fill="#ececec"/>
<rect x="171" y="14" width="18" height="1" fill="#ffffff"/>
<rect x="171" y="14" width="1" height="19" fill="#ffffff"/>
<rect x="190" y="14" width="18" height="19" fill="#ececec"/>
<rect x="190" y="14" width="18" height="1" fill="#ffffff"/>
<rect x="190" y="14" width="1" height="19" fill="#ffffff"/>
<rect x="209" y="14" width="18" height="19" fill="#ececec"/>
<rect x="209" y="14" width="18" height="1" fill="#ffffff"/>
<rect x="209" y="14" width="1" height="19" fill="#ffffff"/>
<rect x="171" y="14" width="18" height="19" fill="#2f5496"/>
<rect x="229" y="13" width="153" height="21" fill="#8c8c8c"/>
<rect x="230" y="14" width="18" height="19" fill="#ececec"/>
<rect x="230" y="14" width="18" height="1" fill="#ffffff"/>
<rect x="230" y="14" width="1" height="19" fill="#ffffff"/>
<rect x="249" y="14" width="18" height="19" fill="#ececec"/>
<rect x="249" y="14" width="18" height="1" fill="#ffffff"/>
<rect x="249" y="14" width="1" height="19" fill="#ffffff"/>
<rect x="268" y="14" width="18" height="19" fill="#ececec"/>
<rect x="268" y="14" width="18" height="1" fill="#ffffff"/>
<rect x="268" y="14" width="1" height="19" fill="#ffffff"/>
<rect x="287" y="14" width="18" height="19" fill="#ececec"/>
<rect x="287" y="14" width="18" height="1" fill="#ffffff"/>
<rect x="287" y="14" width="1" height="19" fill="#ffffff"/>
<rect x="306" y="14" width="18" height="19" fill="#ececec"/>
<rect x="306" y="14" width="18" height="1" fill="#ffffff"/>
<rect x="306" y="14" width="1" height="19" fill="#ffffff"/>
<rect x="325" y="14" width="18" height="19" fill="#ececec"/>
<rect x="325" y="14" width="18" height="1" fill="#ffffff"/>
<rect x="325" y="14" width="1" height="19" fill="#ffffff"/>
<rect x="344" y="14" width="18" height="19" fill="#ececec"/>
<rect x="344" y="14" width="18" height="1" fill="#ffffff"/>
<rect x="344" y="14" width="1" height="19" fill="#ffffff"/>
<rect x="363" y="14" width="18" height="19" fill="#ececec"/>
<rect x="363" y="14" width="18" height="1" fill="#ffffff"/>
<rect x="363" y="14" width="1" height="19" fill="#ffffff"/>
<rect x="306" y="14" width="18" height="19" fill="#2f5496"/>
<rect x="383" y="13" width="39" height="21" fill="#8c8c8c"/>
<rect x="384" y="14" width="23" height="19" fill="#ffffff"/>
<rect x="408" y="14" width="13" height="19" fill="#ececec"/>
<rect x="423" y="13" width="31" height="21" fill="#8c8c8c"/>
<rect x="424" y="14" width="29" height="19" fill="#ffffff"/>
<rect x="492" y="13" width="77" height="21" fill="#8c8c8c"/>
<rect x="493" y="14" width="18" height="19" fill="#ececec"/>
<rect x="493" y="14" width="18" height="1" fill="#ffffff"/>
<rect x="493" y="14" width="1" height="19" fill="#ffffff"/>
<rect x="512" y="14" width="18" height="19" fill="#ececec"/>
<rect x="512" y="14" width="18" height="1" fill="#ffffff"/>
<rect x="512" y="14" width="1" height="19" fill="#ffffff"/>
<rect x="531" y="14" width="18" height="19" fill="#ececec"/>
<rect x="531" y="14" width="18" height="1" fill="#ffffff"/>
<rect x="531" y="14" width="1" height="19" fill="#ffffff"/>
<rect x="550" y="14" width="18" height="19" fill="#ececec"/>
<rect x="550" y="14" width="18" height="1" fill="#ffffff"/>
<rect x="550" y="14" width="1" height="19" fill="#ffffff"/>
<rect x="571" y="16" width="13" height="13" fill="#8c8c8c"/>
<rect x="572" y="17" width="11" height="11" fill="#ffffff"/>
<rect x="595" y="13" width="59" height="21" fill="#8c8c8c"/>
<rect x="596" y="14" width="38" height="19" fill="#ffffff"/>
<rect x="635" y="14" width="18" height="19" fill="#ececec"/>
<rect x="-2" y="35" width="59" height="21" fill="#9a9a9a"/>
<rect x="-1" y="36" width="57" height="19" fill="#efefef"/>
<rect x="58" y="35" width="150" height="21" fill="#9a9a9a"/>
<rect x="59" y="36" width="148" height="19" fill="#efefef"/>
<rect x="209" y="35" width="154" height="21" fill="#9a9a9a"/>
<rect x="210" y="36" width="152" height="19" fill="#efefef"/>
<rect x="364" y="35" width="205" height="21" fill="#9a9a9a"/>
<rect x="365" y="36" width="203" height="19" fill="#efefef"/>
<rect x="570" y="35" width="41" height="21" fill="#9a9a9a"/>
<rect x="571" y="36" width="39" height="19" fill="#f5d1cb"/>
<rect x="613" y="35" width="41" height="21" fill="#9a9a9a"/>
<rect x="614" y="36" width="39" height="19" fill="#c7ddf3"/>
</g>
<g shape-rendering="crispEdges">
<rect x="497" y="16" width="1" height="12" fill="#333"/><rect x="495" y="18" width="5" height="7" fill="#333"/>
<rect x="503" y="16" width="1" height="12" fill="#888"/><rect x="501" y="19" width="5" height="7" fill="#888"/>
</g>
<path d="M504.5 27.3 L507.5 24.8 L507.5 26.4 L510 26.4 L510 28.2 L507.5 28.2 L507.5 29.8 Z" fill="#333"/>
<path d="M513.5 21 L517.5 17.5 L522 22 L527.5 17 M515 17.5 L520 22.5 L525 19 L528.5 21.5" fill="none" stroke="#555" stroke-width="0.9"/>
<path d="M525 24.5 v6 M522 27.5 h6" stroke="#222" stroke-width="2.2"/>
<path d="M534 17 h9.5 l3 3 v9.5 h-12.5 z" fill="none" stroke="#707070" stroke-width="1.6"/><rect x="537" y="17" width="6" height="4" fill="none" stroke="#707070" stroke-width="1.2"/><rect x="536.5" y="23.5" width="7.5" height="6" fill="none" stroke="#707070" stroke-width="1.4"/>
<circle cx="558.8" cy="23" r="5.2" fill="none" stroke="#666" stroke-width="2.8" stroke-dasharray="2.1 1.9"/><circle cx="558.8" cy="23" r="3.6" fill="none" stroke="#666" stroke-width="2.2"/>
<g shape-rendering="crispEdges"><rect x="637.5" y="18.5" width="11" height="9" fill="none" stroke="#555" stroke-width="1"/><rect x="637" y="18" width="12" height="3" fill="#555"/><rect x="642" y="21" width="1" height="6" fill="#555"/><rect x="637" y="24" width="12" height="1" fill="#999"/></g>
<path d="M410 21 L418 21 L414 26 Z" fill="#555"/>
<text x="0" y="28.7" font-size="15" fill="#222" textLength="61" lengthAdjust="spacingAndGlyphs">AQ 100(26.0</text>
<rect x="62" y="13" width="1" height="21" fill="#d2d9e6"/>
<text x="66" y="28.3" font-size="13.5" fill="#000" textLength="23.5" lengthAdjust="spacingAndGlyphs">연결</text>
<text x="97" y="28.3" font-size="13.5" fill="#000" textLength="10" lengthAdjust="spacingAndGlyphs">일</text>
<text x="115.5" y="28.3" font-size="13.5" fill="#000" textLength="11.0" lengthAdjust="spacingAndGlyphs">주</text>
<text x="134" y="28.3" font-size="13.5" fill="#000" textLength="11" lengthAdjust="spacingAndGlyphs">월</text>
<text x="153.5" y="28.3" font-size="13.5" fill="#000" textLength="11.0" lengthAdjust="spacingAndGlyphs">년</text>
<text x="174.5" y="28.3" font-size="13.5" fill="#fff" textLength="11.0" lengthAdjust="spacingAndGlyphs">분</text>
<text x="193.5" y="28.3" font-size="13.5" fill="#000" textLength="11.0" lengthAdjust="spacingAndGlyphs">초</text>
<text x="212" y="28.3" font-size="13.5" fill="#000" textLength="11" lengthAdjust="spacingAndGlyphs">틱</text>
<text x="237.5" y="28.7" font-size="15" fill="#000" textLength="4.0" lengthAdjust="spacingAndGlyphs">1</text>
<text x="256" y="28.7" font-size="15" fill="#000" textLength="5" lengthAdjust="spacingAndGlyphs">3</text>
<text x="275" y="28.7" font-size="15" fill="#000" textLength="5" lengthAdjust="spacingAndGlyphs">5</text>
<text x="290.5" y="28.7" font-size="15" fill="#000" textLength="12.0" lengthAdjust="spacingAndGlyphs">10</text>
<text x="309.5" y="28.7" font-size="15" fill="#fff" textLength="12.0" lengthAdjust="spacingAndGlyphs">15</text>
<text x="328.5" y="28.7" font-size="15" fill="#000" textLength="12.0" lengthAdjust="spacingAndGlyphs">30</text>
<text x="347.5" y="28.7" font-size="15" fill="#000" textLength="12.0" lengthAdjust="spacingAndGlyphs">45</text>
<text x="366.5" y="28.7" font-size="15" fill="#000" textLength="12.0" lengthAdjust="spacingAndGlyphs">60</text>
<text x="390" y="28.7" font-size="15" fill="#000" textLength="11" lengthAdjust="spacingAndGlyphs">15</text>
<text x="438.5" y="28.7" font-size="15" fill="#000" textLength="11.5" lengthAdjust="spacingAndGlyphs">84</text>
<text x="454" y="28.7" font-size="15" fill="#333" textLength="22.5" lengthAdjust="spacingAndGlyphs">/601</text>
<text x="598" y="28.7" font-size="15" fill="#000" textLength="30.5" lengthAdjust="spacingAndGlyphs">03/13</text>
<text x="586.5" y="28.7" font-size="15" fill="#000" textLength="6.0" lengthAdjust="spacingAndGlyphs">D</text>
<text x="-1" y="50.5" font-size="15" fill="#000" textLength="4" lengthAdjust="spacingAndGlyphs">(</text>
<text x="16.5" y="50.5" font-size="15" fill="#2a4f9a" textLength="29.0" lengthAdjust="spacingAndGlyphs">1.39%</text>
<text x="51.5" y="50.5" font-size="15" fill="#000" textLength="3.5" lengthAdjust="spacingAndGlyphs">)</text>
<text x="60.5" y="49.8" font-size="13.5" fill="#000" textLength="34.0" lengthAdjust="spacingAndGlyphs">최우선</text>
<text x="100.5" y="50.5" font-size="15" fill="#000" textLength="48.0" lengthAdjust="spacingAndGlyphs">24596.25</text>
<text x="158" y="50.5" font-size="15" fill="#000" textLength="47.5" lengthAdjust="spacingAndGlyphs">24595.00</text>
<text x="211.5" y="49.8" font-size="13.5" fill="#000" textLength="33.5" lengthAdjust="spacingAndGlyphs">미결제</text>
<text x="261.5" y="50.5" font-size="15" fill="#000" textLength="41.5" lengthAdjust="spacingAndGlyphs">251,865</text>
<text x="309" y="50.5" font-size="15" fill="#000" textLength="4" lengthAdjust="spacingAndGlyphs">(</text>
<text x="324" y="50.5" font-size="15" fill="#000" textLength="19.5" lengthAdjust="spacingAndGlyphs">780</text>
<text x="358" y="50.5" font-size="15" fill="#000" textLength="3.5" lengthAdjust="spacingAndGlyphs">)</text>
<text x="367" y="49.8" font-size="13.5" fill="#000" textLength="9.5" lengthAdjust="spacingAndGlyphs">시</text>
<text x="383.5" y="50.5" font-size="15" fill="#c0392b" textLength="47.5" lengthAdjust="spacingAndGlyphs">24567.00</text>
<text x="434.5" y="49.8" font-size="13.5" fill="#000" textLength="10.5" lengthAdjust="spacingAndGlyphs">고</text>
<text x="450.5" y="50.5" font-size="15" fill="#c0392b" textLength="47.5" lengthAdjust="spacingAndGlyphs">24601.75</text>
<text x="501.5" y="49.8" font-size="13.5" fill="#000" textLength="9.5" lengthAdjust="spacingAndGlyphs">저</text>
<text x="517.5" y="50.5" font-size="15" fill="#2850a0" textLength="47.5" lengthAdjust="spacingAndGlyphs">24540.00</text>
<text x="578.5" y="49.8" font-size="13.5" fill="#000" textLength="23.0" lengthAdjust="spacingAndGlyphs">매수</text>
<text x="621.5" y="49.8" font-size="13.5" fill="#000" textLength="22.0" lengthAdjust="spacingAndGlyphs">매도</text>
<g fill="#c6cad6">
<text x="0" y="4" font-size="13" fill="#d2d6e0" textLength="27" lengthAdjust="spacingAndGlyphs">[CME]</text>
<text x="35.5" y="4.5" font-size="12.5" fill="#d2d6e0" textLength="80.5" lengthAdjust="spacingAndGlyphs">종합수관[제우]</text>
<text x="126.5" y="4.5" font-size="12.5" fill="#d2d6e0" textLength="74.0" lengthAdjust="spacingAndGlyphs">엔진선가[0]</text>
<text x="208.5" y="4" font-size="13" fill="#d2d6e0" textLength="114.5" lengthAdjust="spacingAndGlyphs">계좌정거점[40,410.00]</text>
</g>
<rect x="952" y="0" width="79" height="8" fill="#e0198a"/>
<rect x="959" y="0" width="3" height="4" fill="#fff"/><rect x="963" y="0" width="9" height="4.5" rx="1.5" fill="#fff"/>
<text x="977" y="4.2" font-size="12" fill="#fff" textLength="46" lengthAdjust="spacingAndGlyphs">우선매수</text>
<rect x="1034" y="0" width="1" height="5" fill="#8088a0"/>
<rect x="1039.5" y="-1" width="47" height="7" fill="none" stroke="#a8aec0" stroke-width="1"/>
<rect x="1044.5" y="0" width="3.5" height="2" fill="#e02020"/>
<text x="1053" y="3.2" font-size="11" font-weight="bold" fill="#fff" textLength="28" lengthAdjust="spacingAndGlyphs">LIVE</text>
<g fill="none" stroke="#c0c4d0" stroke-width="1" shape-rendering="crispEdges">
<rect x="1099.5" y="-2" width="11" height="5"/><path d="M1105 -2 v5"/>
<rect x="1118.5" y="-2" width="10" height="5"/><rect x="1122.5" y="0" width="10" height="3"/>
<path d="M1196 3.5 h11" /><rect x="1217.5" y="-2" width="10" height="5"/>
<path d="M1192.5 -2 v6"/>
</g>
<rect x="1138.5" y="-1" width="6" height="5" fill="none" stroke="#b0b4c0" stroke-width="1"/><rect x="1143" y="1.5" width="9" height="4.5" fill="#9ca2b2"/>
<path d="M1161 0 v3 M1159 2 h4" stroke="#c0c4d0" stroke-width="1"/><rect x="1177" y="1" width="2" height="2" fill="#c0c4d0"/>
<path d="M1237 4 L1241.5 -1 L1246 4" stroke="#c0c4d0" stroke-width="1.2" fill="none"/>
<rect x="0" y="62" width="163" height="15" fill="#c9c9c9" shape-rendering="crispEdges"/>
<text x="-4" y="73.8" font-size="12.5" fill="#222" textLength="164.5" lengthAdjust="spacingAndGlyphs">596,00 저:24585,75 종:24596,00</text>
<text x="173.5" y="74" font-size="12.5" fill="#d97a32" textLength="91.0" lengthAdjust="spacingAndGlyphs">상한선(24605,98)</text>
<text x="272.5" y="74" font-size="12.5" fill="#2a7d2a" textLength="92.5" lengthAdjust="spacingAndGlyphs">하한선(24588,29)</text>
<rect x="370.5" y="66.5" width="4.5" height="5" fill="#b0b0b0" stroke="#777" stroke-width="1"/>
<text x="381" y="74" font-size="12.5" fill="#333" textLength="129" lengthAdjust="spacingAndGlyphs">DMI 강세패턴  약세패턴</text>
<g shape-rendering="crispEdges">
<rect x="0" y="890" width="1251" height="18" fill="#f6f6f6"/>
<rect x="0" y="907" width="1251" height="2" fill="#e6e6e6"/>
<rect x="0" y="909" width="1251" height="6" fill="#a2a2a2"/>
<rect x="0" y="913" width="427" height="2" fill="#3e434b"/>
<rect x="431" y="913" width="820" height="1" fill="#f0f0f0"/>
<rect x="666" y="891" width="156" height="16" fill="#7a7a7a"/>
<rect x="666" y="891" width="155" height="15" fill="#ffffff"/>
<rect x="667" y="892" width="154" height="14" fill="#efefef"/>
<rect x="878" y="891" width="16" height="15" fill="#7a7a7a"/>
<rect x="878" y="891" width="15" height="14" fill="#ffffff"/>
<rect x="879" y="892" width="14" height="13" fill="#ececec"/>
<rect x="895" y="891" width="16" height="15" fill="#7a7a7a"/>
<rect x="895" y="891" width="15" height="14" fill="#ffffff"/>
<rect x="896" y="892" width="14" height="13" fill="#ececec"/>
<rect x="912" y="891" width="16" height="15" fill="#7a7a7a"/>
<rect x="912" y="891" width="15" height="14" fill="#ffffff"/>
<rect x="913" y="892" width="14" height="13" fill="#ececec"/>
<rect x="929" y="891" width="16" height="15" fill="#7a7a7a"/>
<rect x="929" y="891" width="15" height="14" fill="#ffffff"/>
<rect x="930" y="892" width="14" height="13" fill="#ececec"/>
<rect x="951" y="895" width="69" height="2" fill="#8a8a8a"/>
<rect x="961" y="892" width="3" height="9" fill="#aaa"/>
<rect x="953" y="904" width="1" height="3" fill="#222"/>
<rect x="960" y="904" width="1" height="3" fill="#222"/>
<rect x="966" y="904" width="1" height="3" fill="#222"/>
<rect x="973" y="904" width="1" height="3" fill="#222"/>
<rect x="979" y="904" width="1" height="3" fill="#222"/>
<rect x="986" y="904" width="1" height="3" fill="#222"/>
<rect x="993" y="904" width="1" height="3" fill="#222"/>
<rect x="999" y="904" width="1" height="3" fill="#222"/>
<rect x="1006" y="904" width="1" height="3" fill="#222"/>
<rect x="1012" y="904" width="1" height="3" fill="#222"/>
<rect x="1019" y="904" width="1" height="3" fill="#222"/>
</g>
<path d="M884 895 L889 898.5 L884 902 Z" fill="#000"/>
<path d="M898 898.5 L902 895 L902 902 Z M902 898.5 L906 895 L906 902 Z" fill="#000"/>
<rect x="916" y="895" width="7" height="7" fill="#000"/>
<path d="M933 895 L937 898.5 L933 902 Z M937 895 L941 898.5 L937 902 Z" fill="#000"/>
<rect x="1078" y="891" width="16" height="16" fill="#ffffff"/><rect x="1078" y="891" width="1" height="16" fill="#888"/>
<g fill="none" stroke="#666" stroke-width="1">
<rect x="1028.5" y="892.5" width="9" height="9"/><rect x="1035.5" y="898.5" width="6" height="6" fill="#f6f6f6"/><path d="M1038.5 898.5 v6 M1035.5 901.5 h6"/>
<rect x="1045.5" y="892.5" width="8" height="8"/><rect x="1049.5" y="896.5" width="8" height="8" fill="#ddd"/>
<path d="M1062 893 h13 M1062 904 h13 M1063 901 l3 -3 l3 2 l5 -4" stroke-dasharray="1.5 1"/>
<path d="M1080.5 893 v12 M1079 894.5 h4 M1084 894.5 h6 M1084 894.5 l7 7" stroke="#333" stroke-width="1.4"/>
<path d="M1096 902 l3 -1 l3 -5 l3 6 l3 -6 h3 M1097 895 h6 l3 3" stroke="#555" stroke-width="1.1"/>
<path d="M1113 903 l3 -2 l2 -8 l2 10 l3 -6 l3 3 M1117.5 893 v13" stroke="#555" stroke-width="1.1"/>
<path d="M1130 904 l7 -10 l2 5 l3 -3 l2 4 M1131 901 l9 -9" stroke="#555" stroke-width="1.1"/>
<path d="M1148 897 l4 -4 h7 v6 l-4 4 h-7 z M1152 893 v6 h7"/><path d="M1155 899 v5 M1157 899 v5 M1159 899 v5" stroke="#333"/>
<rect x="1164.5" y="897.5" width="9" height="7"/><rect x="1167.5" y="892.5" width="9" height="6"/><path d="M1165 903 l3 -3 l2 2 l3 -3"/>
</g>
<circle cx="1186" cy="896.5" r="4" fill="none" stroke="#444" stroke-width="1.6"/><path d="M1189 899.5 l4 4" stroke="#444" stroke-width="2"/>
<rect x="1199" y="897" width="10" height="2.4" fill="#555"/><rect x="1217" y="897" width="11" height="2.4" fill="#555"/><rect x="1221.3" y="892.5" width="2.4" height="11" fill="#555"/>
<path d="M1234.5 904.5 L1238.8 892.5 L1243 904.5 M1236 900.5 h5.5" fill="none" stroke="#555" stroke-width="2"/>
</svg></body></html>
